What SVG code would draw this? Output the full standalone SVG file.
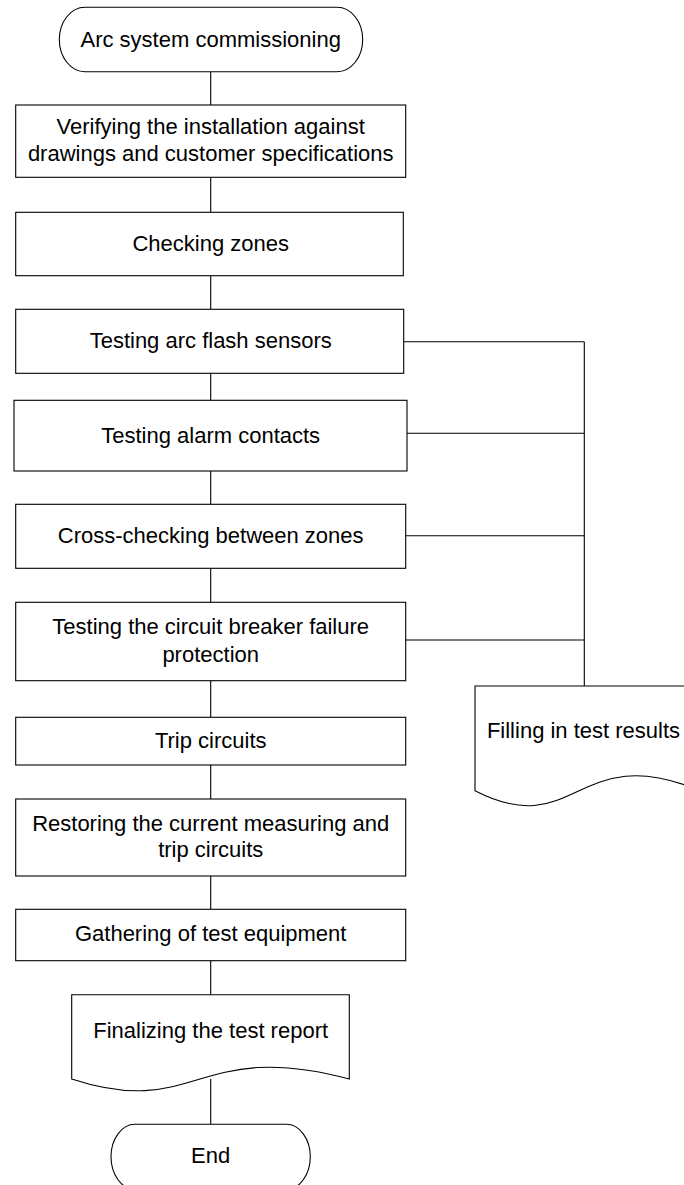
<svg xmlns="http://www.w3.org/2000/svg" width="684" height="1185" viewBox="0 0 684 1185">
<style>
.s{fill:#fff;stroke:#000;stroke-width:1.1}
.c{fill:none;stroke:#000;stroke-width:1.1}
.t{font-family:"Liberation Sans",Arial,sans-serif;font-size:22px;fill:#000;text-anchor:middle}
</style>
<rect width="684" height="1185" fill="#fff"/>
<g id="connectors">
<path class="c" d="M210.7,71.7V105 M210.7,177.3V212.3 M210.7,275.7V309.3 M210.7,373.3V400.3 M210.7,471V504.3 M210.7,568.3V602.3 M210.7,680.7V717.3 M210.7,765V799 M210.7,876V909.3 M210.7,960.7V994.7 M210.7,1079V1124.3"/>
<path class="c" d="M403.7,341.7H584.3 M407,433.3H584.3 M405.7,535.7H584.3 M405.7,640H584.3 M584.3,341.7V686"/>
</g>
<g id="start">
<path class="s" d="M85,7.3H337A25.7 32.2 0 0 1 337,71.7H85A25.7 32.2 0 0 1 85,7.3Z"/>
<text class="t" x="210.7" y="46.7">Arc system commissioning</text>
</g>
<g id="verify">
<rect class="s" x="15.7" y="105" width="390" height="72.3"/>
<text class="t" x="210.7" y="134.3">Verifying the installation against</text>
<text class="t" x="210.7" y="161">drawings and customer specifications</text>
</g>
<g id="zones">
<rect class="s" x="15.7" y="212.3" width="387.6" height="63.4"/>
<text class="t" x="210.7" y="250.7">Checking zones</text>
</g>
<g id="sensors">
<rect class="s" x="15.7" y="309.3" width="388" height="64"/>
<text class="t" x="210.7" y="348.3">Testing arc flash sensors</text>
</g>
<g id="alarm">
<rect class="s" x="14" y="400.3" width="393" height="70.7"/>
<text class="t" x="210.7" y="442.7">Testing alarm contacts</text>
</g>
<g id="cross">
<rect class="s" x="15.7" y="504.3" width="390" height="64"/>
<text class="t" x="210.7" y="542.7">Cross-checking between zones</text>
</g>
<g id="breaker">
<rect class="s" x="15.7" y="602.3" width="390" height="78.4"/>
<text class="t" x="210.7" y="634">Testing the circuit breaker failure</text>
<text class="t" x="210.7" y="661.7">protection</text>
</g>
<g id="trip">
<rect class="s" x="15.7" y="717.3" width="390" height="47.7"/>
<text class="t" x="210.7" y="748.3">Trip circuits</text>
</g>
<g id="restore">
<rect class="s" x="15.7" y="799" width="390" height="77"/>
<text class="t" x="210.7" y="830.7">Restoring the current measuring and</text>
<text class="t" x="210.7" y="857.3">trip circuits</text>
</g>
<g id="gather">
<rect class="s" x="15.7" y="909.3" width="390" height="51.4"/>
<text class="t" x="210.7" y="940.7">Gathering of test equipment</text>
</g>
<g id="report">
<path class="s" d="M71.7,1079V994.7H349.3V1079C196.6,1038 196.6,1120 71.7,1079Z"/>
<text class="t" x="210.7" y="1038.3">Finalizing the test report</text>
</g>
<g id="end">
<path class="s" d="M135,1124.3H286.3A24 32.5 0 0 1 286.3,1189.3H135A24 32.5 0 0 1 135,1124.3Z"/>
<text class="t" x="210.7" y="1162.7">End</text>
</g>
<g id="results">
<path class="s" d="M475,790.7V686H700V790.7C576.25,738.7 576.25,842.7 475,790.7Z"/>
<text class="t" x="583.5" y="738.3">Filling in test results</text>
</g>
</svg>
